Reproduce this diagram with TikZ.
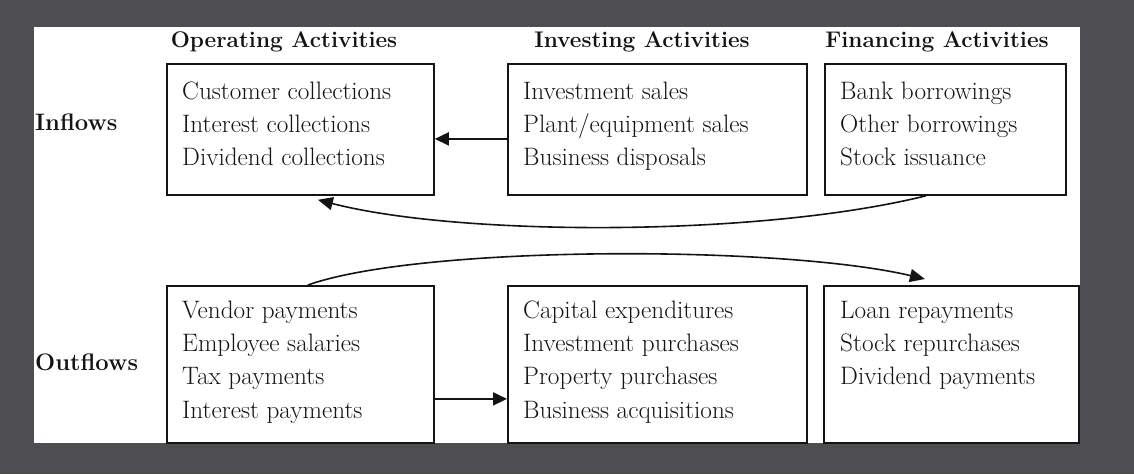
\documentclass[tikz,border=0pt]{standalone}
\usetikzlibrary{arrows.meta}
\definecolor{frame}{RGB}{77,77,82}
\definecolor{ink}{RGB}{20,20,20}
\begin{document}
\begin{tikzpicture}[x=1pt,y=-1pt,
  box/.style={draw=ink,line width=1.8pt,inner sep=0pt,anchor=north west},
  items/.style={inner sep=0pt,anchor=north west,align=left,text=ink,
    font=\fontsize{25.2}{33.3}\selectfont},
  head/.style={inner sep=0pt,anchor=base,text=ink,
    font=\fontsize{22.6}{26}\selectfont\bfseries},
  side/.style={inner sep=0pt,anchor=base west,text=ink,
    font=\fontsize{23.8}{27}\selectfont\bfseries},
  flow/.style={draw=ink,line width=1.9pt,-{Triangle[length=14pt,width=13pt]}},
  swing/.style={draw=ink,line width=1.6pt,-{Triangle[length=15pt,width=13pt]}}]

% page and white panel
\useasboundingbox (0,0) rectangle (1134,474);
\fill[frame] (0,0) rectangle (1134,474);
\fill[white] (34,27) rectangle (1080,443);

% column headings
\node[head] (hOp)  at (284,47) {Operating Activities};
\node[head] (hInv) at (642,47) {Investing Activities};
\node[head] (hFin) at (937,47) {Financing Activities};

% row labels
\node[side] (lIn)  at (35,130) {Inflows};
\node[side] (lOut) at (35,370) {Outflows};

% inflow boxes
\node[box,minimum width=267pt,minimum height=131pt] (opIn)  at (166,63) {};
\node[box,minimum width=299pt,minimum height=131pt] (invIn) at (507,63) {};
\node[box,minimum width=241pt,minimum height=131pt] (finIn) at (824,63) {};

% outflow boxes
\node[box,minimum width=267pt,minimum height=157pt] (opOut)  at (166,285) {};
\node[box,minimum width=299pt,minimum height=157pt] (invOut) at (507,285) {};
\node[box,minimum width=255pt,minimum height=157pt] (finOut) at (823,285) {};

% box contents
\node[items] (tOpIn)  at ([shift={(16pt,-12.7pt)}]opIn.north west)
  {\strut Customer collections\\Interest collections\\Dividend collections};
\node[items] (tInvIn) at ([shift={(16pt,-12.7pt)}]invIn.north west)
  {\strut Investment sales\\Plant/equipment sales\\Business disposals};
\node[items] (tFinIn) at ([shift={(16pt,-12.7pt)}]finIn.north west)
  {\strut Bank borrowings\\Other borrowings\\Stock issuance};

\node[items] (tOpOut)  at ([shift={(16pt,-9.7pt)}]opOut.north west)
  {\strut Vendor payments\\Employee salaries\\Tax payments\\Interest payments};
\node[items] (tInvOut) at ([shift={(16pt,-9.7pt)}]invOut.north west)
  {\strut Capital expenditures\\Investment purchases\\Property purchases\\Business acquisitions};
\node[items] (tFinOut) at ([shift={(17pt,-9.7pt)}]finOut.north west)
  {\strut Loan repayments\\Stock repurchases\\Dividend payments};

% straight connectors
\draw[flow] ([yshift=-9.5pt]invIn.west) -- ([yshift=-9.5pt]opIn.east);
\draw[flow] ([yshift=-34.5pt]opOut.east) -- ([yshift=-34.5pt]invOut.west);

% curved connectors
\draw[swing] ([xshift=-19.5pt]finIn.south)
  .. controls +(-165,41) and +(143,37) .. ([shift={(17.5pt,-4pt)}]opIn.south);
\draw[swing] ([xshift=7.5pt]opOut.north)
  .. controls +(113,-40) and +(-144,-34) .. ([shift={(-26.5pt,6pt)}]finOut.north);
\end{tikzpicture}
\end{document}
